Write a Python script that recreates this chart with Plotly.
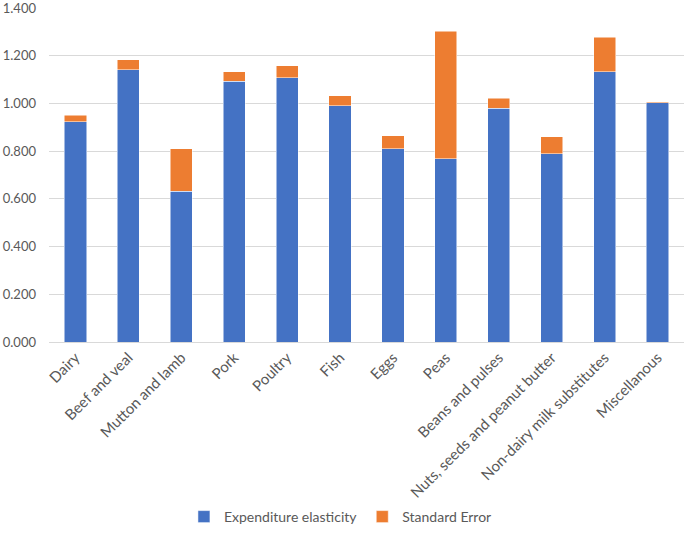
import plotly.graph_objects as go

categories = ["Dairy", "Beef and veal", "Mutton and lamb", "Pork", "Poultry", "Fish",
              "Eggs", "Peas", "Beans and pulses", "Nuts, seeds and peanut butter",
              "Non-dairy milk substitutes", "Miscellanous"]
elasticity = [0.924, 1.142, 0.633, 1.094, 1.109, 0.990, 0.810, 0.769, 0.980, 0.789, 1.133, 1.003]
std_error = [0.026, 0.042, 0.177, 0.039, 0.050, 0.042, 0.054, 0.533, 0.043, 0.071, 0.145, 0.005]
y_ticks = [0, 0.2, 0.4, 0.6, 0.8, 1.0, 1.2, 1.4]

FONT = "Lato"
TXT = "#595959"

fig = go.Figure()
fig.add_trace(go.Bar(x=categories, y=elasticity, name="Expenditure elasticity",
                     marker=dict(color="#4472C4", line=dict(color="white", width=0.5))))
fig.add_trace(go.Bar(x=categories, y=std_error, name="Standard Error",
                     marker=dict(color="#ED7D31", line=dict(color="white", width=0.5))))

fig.update_layout(
    barmode="stack",
    bargap=0.58,
    width=685, height=533,
    margin=dict(l=49, r=1, t=8, b=191, autoexpand=False),
    paper_bgcolor="white", plot_bgcolor="white",
    font=dict(family=FONT, size=13, color=TXT),
    showlegend=True,
    legend=dict(orientation="h", xref="container", yref="container",
                x=0.497, xanchor="center", y=-0.012, yanchor="bottom",
                traceorder="normal",
                font=dict(family=FONT, size=14, color=TXT),
                itemwidth=30, tracegroupgap=0),
    xaxis=dict(tickangle=-45, showgrid=False, showline=True, linecolor="#d9d9d9",
               ticks="", tickfont=dict(family=FONT, size=15, color=TXT)),
    yaxis=dict(range=[0, 1.4005], tickvals=y_ticks, tickformat=".3f",
               showgrid=True, gridcolor="#d9d9d9", gridwidth=1,
               zeroline=False, showline=False, ticks="",
               ticklabelstandoff=12, ticklabeloverflow="allow",
               tickfont=dict(family=FONT, size=13, color=TXT)),
)

fig.write_html("out.html", config={"displayModeBar": False},
               post_script="document.body.style.margin='0';document.body.style.padding='0';")
